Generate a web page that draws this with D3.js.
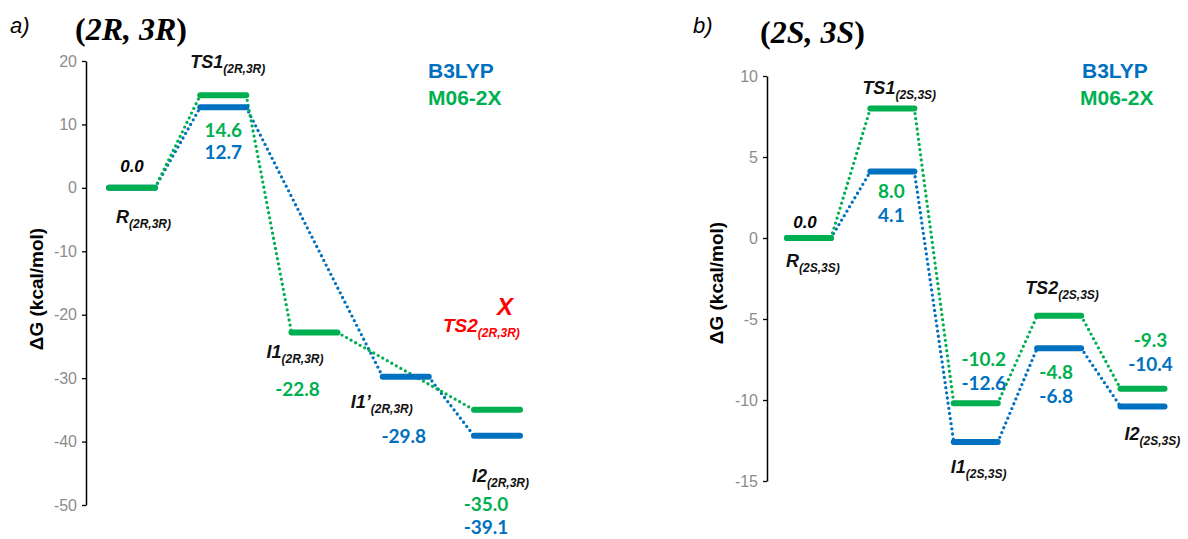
<!DOCTYPE html>
<html>
<head>
<meta charset="utf-8">
<script src="https://cdn.jsdelivr.net/npm/d3@7"></script>
<style>
  body { margin: 0; background: #fff; }
  svg { display: block; }
  .tick text { fill: #8c8c8c; font-family: "Liberation Sans", Arial, sans-serif; font-size: 16px; }
  .tick line { stroke: #000; stroke-width: 1.3; }
  .domain { stroke: #000; stroke-width: 1.5; }
</style>
</head>
<body>
<svg width="1188" height="539"></svg>
<script>
// ---- data: panel a) (2R,3R) ----
const stepsA = ["R", "TS1", "I1", "I1'", "I2"];
const b3lypA = [0.0, 12.7, null, -29.8, -39.1];
const m062xA = [0.0, 14.6, -22.8, null, -35.0];
const ticksA = [20, 10, 0, -10, -20, -30, -40, -50];

// ---- data: panel b) (2S,3S) ----
const stepsB = ["R", "TS1", "I1", "TS2", "I2"];
const b3lypB = [0.0, 4.1, -12.6, -6.8, -10.4];
const m062xB = [0.0, 8.0, -10.2, -4.8, -9.3];
const ticksB = [10, 5, 0, -5, -10, -15];

const BLUE = "#0070c0", GREEN = "#00b050", RED = "#ff0000";
const svg = d3.select("svg");
const sans = "'Liberation Sans', Arial, sans-serif";
const numFont = "Lato, 'Open Sans', sans-serif";

function label(g, x, y, main, sub, opt = {}) {
  const t = g.append("text")
    .attr("x", x).attr("y", y)
    .attr("font-family", sans).attr("font-weight", "bold").attr("font-style", "italic")
    .attr("font-size", opt.size || 18).attr("fill", opt.color || "#111");
  t.append("tspan").text(main);
  t.append("tspan").attr("dy", 5).attr("font-size", opt.subSize || 12).text(sub);
}

function value(g, x, y, v, color) {
  g.append("text").attr("x", x).attr("y", y)
    .attr("text-anchor", "middle")
    .attr("font-family", numFont).attr("font-weight", "bold").attr("font-size", 19)
    .attr("fill", color).text(v.toFixed(1));
}

function panel(cfg) {
  const g = svg.append("g");
  const x = d3.scalePoint().domain(cfg.steps).range(cfg.xRange);
  const y = d3.scaleLinear().domain(cfg.yDomain).range(cfg.yRange);
  const hw = cfg.halfWidth;

  g.append("g").attr("transform", `translate(${cfg.axisX},0)`)
    .call(d3.axisLeft(y).tickValues(cfg.ticks).tickFormat(d => String(d))
      .tickSize(4).tickSizeOuter(0).tickPadding(5));

  g.append("text")
    .attr("transform", `translate(${cfg.axisX - cfg.ylabOff},${cfg.ylabY}) rotate(-90)`)
    .attr("text-anchor", "middle")
    .attr("font-family", sans).attr("font-weight", "bold").attr("font-size", 19)
    .text("ΔG (kcal/mol)");

  const series = [
    { vals: cfg.b3lyp, color: BLUE },
    { vals: cfg.m062x, color: GREEN }
  ];
  series.forEach(s => {
    const pts = cfg.steps.map((k, i) => ({ k, v: s.vals[i] })).filter(d => d.v !== null);
    // dotted connectors
    for (let i = 0; i < pts.length - 1; i++) {
      const a = pts[i], b = pts[i + 1];
      g.append("line")
        .attr("x1", x(a.k) + hw).attr("y1", y(a.v))
        .attr("x2", x(b.k) - hw).attr("y2", y(b.v))
        .attr("stroke", s.color).attr("stroke-width", 3.3)
        .attr("stroke-linecap", "round").attr("stroke-dasharray", "0,5.2");
    }
  });
  series.forEach(s => {
    const pts = cfg.steps.map((k, i) => ({ k, v: s.vals[i] })).filter(d => d.v !== null);
    g.selectAll(null).data(pts).enter().append("line")
      .attr("x1", d => x(d.k) - hw).attr("x2", d => x(d.k) + hw)
      .attr("y1", d => y(d.v)).attr("y2", d => y(d.v))
      .attr("stroke", s.color).attr("stroke-width", 6).attr("stroke-linecap", "round");
  });
  return { g, x, y };
}

// ---------- panel a ----------
const A = panel({
  steps: stepsA, b3lyp: b3lypA, m062x: m062xA, ticks: ticksA,
  xRange: [132, 497], yDomain: [-50, 20], yRange: [505, 61],
  halfWidth: 23, axisX: 86, ylabOff: 43, ylabY: 289
});
{
  const { g, x, y } = A;
  g.append("text").attr("x", 10).attr("y", 33).attr("font-family", sans)
    .attr("font-style", "italic").attr("font-size", 22).text("a)");
  const t = g.append("text").attr("x", 75).attr("y", 40)
    .attr("font-family", "'Liberation Serif', 'Times New Roman', serif")
    .attr("font-weight", "bold").attr("font-size", 32);
  t.append("tspan").text("(");
  t.append("tspan").attr("font-style", "italic").text("2R, 3R");
  t.append("tspan").text(")");

  g.append("text").attr("x", 428).attr("y", 78).attr("font-family", sans)
    .attr("font-weight", "bold").attr("font-size", 21).attr("fill", BLUE).text("B3LYP");
  g.append("text").attr("x", 428).attr("y", 105).attr("font-family", sans)
    .attr("font-weight", "bold").attr("font-size", 21).attr("fill", GREEN).text("M06-2X");

  g.append("text").attr("x", x("R")).attr("y", y(0) - 16).attr("text-anchor", "middle")
    .attr("font-family", sans).attr("font-weight", "bold").attr("font-style", "italic")
    .attr("font-size", 17).text("0.0");
  label(g, x("R") - 16, 223, "R", "(2R,3R)");
  label(g, x("TS1") - 33, 68, "TS1", "(2R,3R)");
  value(g, x("TS1"), 137, m062xA[1], GREEN);
  value(g, x("TS1"), 159, b3lypA[1], BLUE);
  label(g, x("I1") - 48, 358, "I1", "(2R,3R)");
  value(g, x("I1") - 17, 396, m062xA[2], GREEN);
  label(g, x("I1'") - 55, 408, "I1’", "(2R,3R)");
  value(g, x("I1'") - 2, 443, b3lypA[3], BLUE);
  label(g, x("I2") - 25, 482, "I2", "(2R,3R)");
  value(g, x("I2") - 11, 511, m062xA[4], GREEN);
  value(g, x("I2") - 11, 534, b3lypA[4], BLUE);

  g.append("text").attr("x", 505).attr("y", 315).attr("text-anchor", "middle")
    .attr("font-family", sans).attr("font-weight", "bold").attr("font-style", "italic")
    .attr("font-size", 24).attr("fill", RED).text("X");
  label(g, 443, 332, "TS2", "(2R,3R)", { color: RED, size: 19 });
}

// ---------- panel b ----------
const B = panel({
  steps: stepsB, b3lyp: b3lypB, m062x: m062xB, ticks: ticksB,
  xRange: [809, 1142.5], yDomain: [-15, 10], yRange: [481, 76],
  halfWidth: 22, axisX: 767, ylabOff: 44, ylabY: 283
});
{
  const { g, x, y } = B;
  g.append("text").attr("x", 693).attr("y", 33).attr("font-family", sans)
    .attr("font-style", "italic").attr("font-size", 22).text("b)");
  const t = g.append("text").attr("x", 760).attr("y", 43)
    .attr("font-family", "'Liberation Serif', 'Times New Roman', serif")
    .attr("font-weight", "bold").attr("font-size", 32);
  t.append("tspan").text("(");
  t.append("tspan").attr("font-style", "italic").text("2S, 3S");
  t.append("tspan").text(")");

  g.append("text").attr("x", 1082).attr("y", 78).attr("font-family", sans)
    .attr("font-weight", "bold").attr("font-size", 21).attr("fill", BLUE).text("B3LYP");
  g.append("text").attr("x", 1080).attr("y", 105).attr("font-family", sans)
    .attr("font-weight", "bold").attr("font-size", 21).attr("fill", GREEN).text("M06-2X");

  g.append("text").attr("x", x("R") - 4).attr("y", y(0) - 10).attr("text-anchor", "middle")
    .attr("font-family", sans).attr("font-weight", "bold").attr("font-style", "italic")
    .attr("font-size", 17).text("0.0");
  label(g, x("R") - 23, 267, "R", "(2S,3S)");
  label(g, x("TS1") - 30, 94, "TS1", "(2S,3S)");
  value(g, x("TS1") - 1, 198, m062xB[1], GREEN);
  value(g, x("TS1") - 1, 222, b3lypB[1], BLUE);
  label(g, x("I1") - 25, 473, "I1", "(2S,3S)");
  value(g, x("I1") + 8, 366, m062xB[2], GREEN);
  value(g, x("I1") + 8, 390, b3lypB[2], BLUE);
  label(g, x("TS2") - 34, 294, "TS2", "(2S,3S)");
  value(g, x("TS2") - 3, 379, m062xB[3], GREEN);
  value(g, x("TS2") - 3, 403, b3lypB[3], BLUE);
  label(g, x("I2") - 18, 440, "I2", "(2S,3S)");
  value(g, x("I2") + 8, 347, m062xB[4], GREEN);
  value(g, x("I2") + 8, 371, b3lypB[4], BLUE);
}
</script>
</body>
</html>
